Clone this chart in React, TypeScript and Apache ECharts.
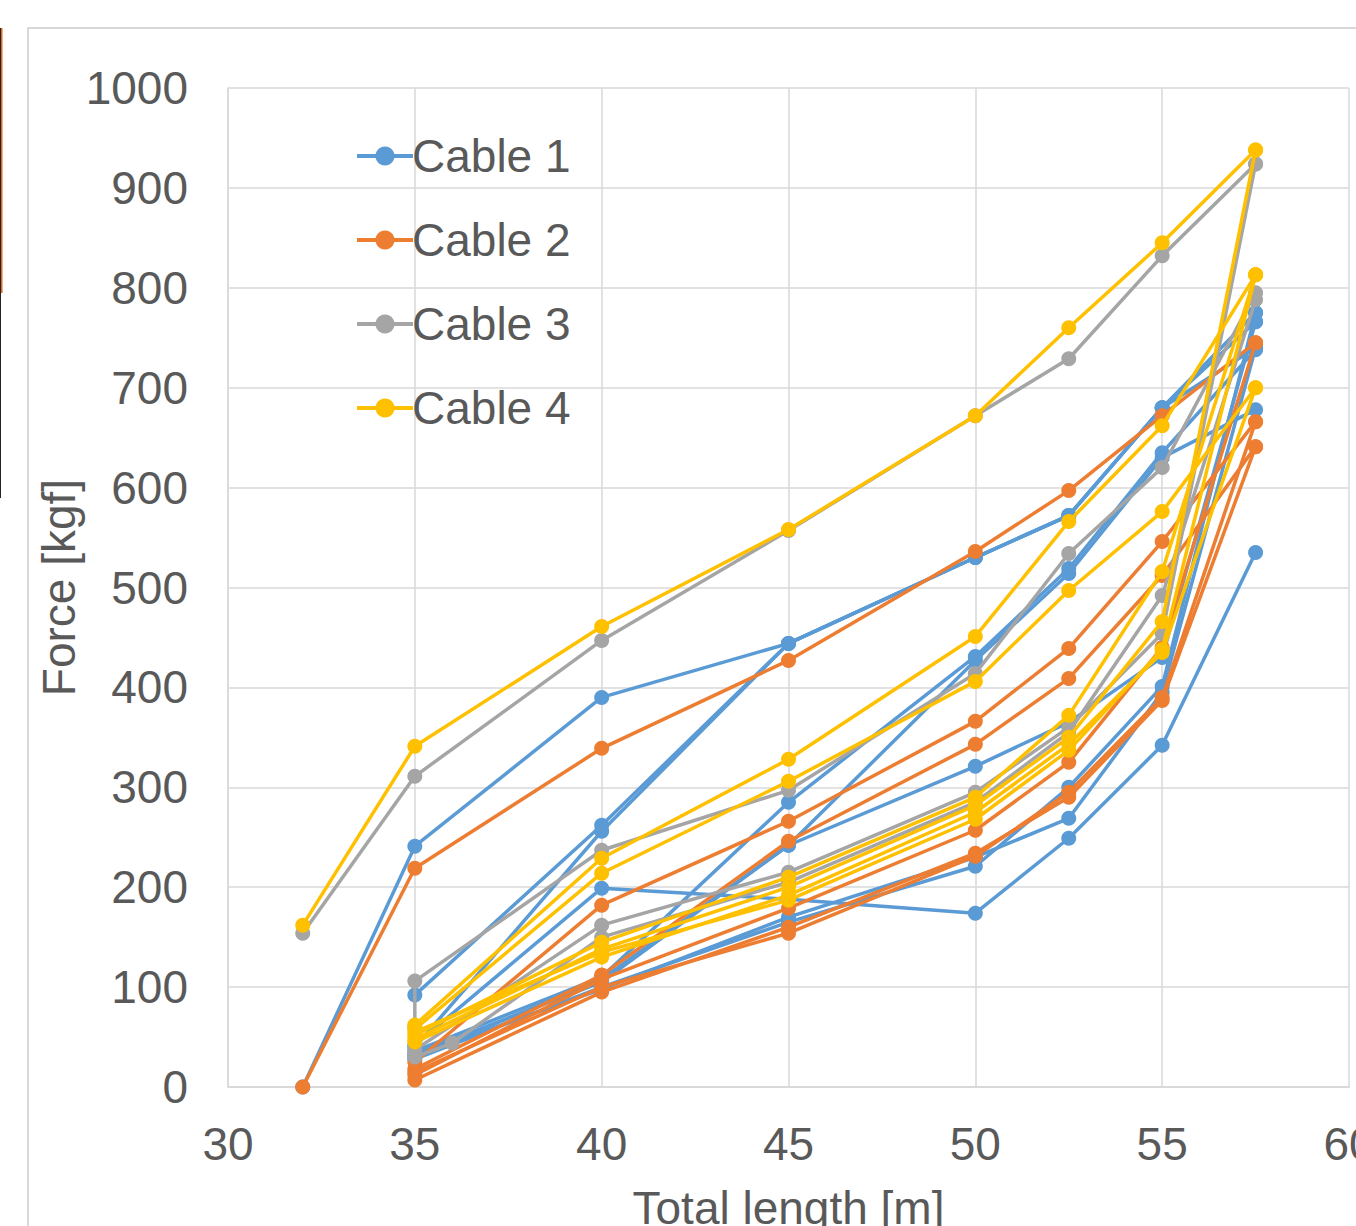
import React, { useEffect, useRef } from "react";
import * as echarts from "echarts";

// Tick settings
const xTicks = { min: 30, max: 60, interval: 5 };
const yTicks = { min: 0, max: 1000, interval: 100 };

const cableNames = ["Cable 1", "Cable 2", "Cable 3", "Cable 4"];
const cableColors = ["#5B9BD5", "#ED7D31", "#A5A5A5", "#FFC000"];

// Cable 1 runs: [total length, force]
const cable1Runs: number[][][] = [
  [[32, 0], [35, 241], [40, 390], [45, 444], [50, 530], [52.5, 572], [55, 680], [57.5, 775]],
  [[35, 92], [40, 262], [45, 444], [50, 530], [52.5, 572], [55, 680], [57.5, 766]],
  [[35, 42], [40, 199], [45, 188], [50, 174], [52.5, 249], [55, 342], [57.5, 535]],
  [[35, 40], [40, 256], [45, 444], [50, 530], [52.5, 572], [55, 680], [57.5, 740]],
  [[35, 36], [40, 110], [45, 285], [50, 431], [52.5, 519], [55, 635], [57.5, 738]],
  [[35, 33], [40, 105], [45, 242], [50, 427], [52.5, 514], [55, 630], [57.5, 678]],
  [[35, 30], [40, 108], [45, 242], [50, 321], [52.5, 365], [55, 430], [57.5, 766]],
  [[35, 28], [40, 100], [45, 165], [50, 221], [52.5, 300], [55, 401], [57.5, 775]],
  [[35, 31], [40, 98], [45, 170], [50, 230], [52.5, 269], [55, 395], [57.5, 740]],
];

// Cable 2 runs
const cable2Runs: number[][][] = [
  [[32, 0], [35, 219], [40, 339], [45, 427], [50, 536], [52.5, 597], [55, 672], [57.5, 745]],
  [[35, 25], [40, 182], [45, 266], [50, 366], [52.5, 439], [55, 546], [57.5, 666]],
  [[35, 18], [40, 112], [45, 246], [50, 343], [52.5, 409], [55, 512], [57.5, 641]],
  [[35, 12], [40, 108], [45, 179], [50, 257], [52.5, 325], [55, 440], [57.5, 745]],
  [[35, 7], [40, 95], [45, 160], [50, 234], [52.5, 290], [55, 387], [57.5, 641]],
  [[35, 15], [40, 100], [45, 154], [50, 231], [52.5, 295], [55, 390], [57.5, 666]],
];

// Cable 3 runs
const cable3Runs: number[][][] = [
  [[32, 154], [35, 311], [40, 447], [45, 557], [50, 672], [52.5, 729], [55, 832], [57.5, 924]],
  [[35, 60], [35, 106], [40, 237], [45, 297], [50, 414], [52.5, 534], [55, 620], [57.5, 795]],
  [[35, 37], [40, 162], [45, 215], [50, 295], [52.5, 360], [55, 454], [57.5, 924]],
  [[35, 30], [36, 44], [40, 150], [45, 205], [50, 285], [52.5, 355], [55, 492], [57.5, 788]],
];

// Cable 4 runs
const cable4Runs: number[][][] = [
  [[32, 162], [35, 341], [40, 461], [45, 558], [50, 672], [52.5, 760], [55, 845], [57.5, 938]],
  [[35, 62], [40, 229], [45, 328], [50, 451], [52.5, 566], [55, 662], [57.5, 813]],
  [[35, 58], [40, 214], [45, 306], [50, 406], [52.5, 497], [55, 576], [57.5, 700]],
  [[35, 52], [40, 145], [45, 210], [50, 290], [52.5, 372], [55, 516], [57.5, 813]],
  [[35, 48], [40, 138], [45, 200], [50, 282], [52.5, 350], [55, 466], [57.5, 938]],
  [[35, 45], [40, 130], [45, 192], [50, 275], [52.5, 343], [55, 435], [57.5, 700]],
  [[35, 55], [40, 135], [45, 187], [50, 268], [52.5, 337], [55, 438], [57.5, 813]],
];

const allRuns = [cable1Runs, cable2Runs, cable3Runs, cable4Runs];

const FONT = "'Liberation Sans', Arial, sans-serif";
const TEXT = "#595959";
const GRID = "#d9d9d9";
const FS = 46;

export default function App() {
  const ref = useRef<HTMLDivElement>(null);

  useEffect(() => {
    if (!ref.current) return;
    const chart = echarts.init(ref.current, undefined, { renderer: "svg" });

    const series: any[] = [];
    allRuns.forEach((runs, ci) => {
      runs.forEach((run) => {
        series.push({
          type: "line",
          name: cableNames[ci],
          data: run,
          symbol: "circle",
          symbolSize: 15,
          showSymbol: true,
          lineStyle: { color: cableColors[ci], width: 3.5 },
          itemStyle: { color: cableColors[ci] },
          emphasis: { disabled: true },
          z: 2 + ci,
        });
      });
    });

    chart.setOption({
      animation: false,
      backgroundColor: "#ffffff",
      grid: {
        left: 228,
        right: 7,
        top: 88,
        bottom: 139,
        containLabel: false,
        outerBoundsMode: "none",
      },
      legend: {
        data: cableNames,
        orient: "vertical",
        left: 350,
        top: 127,
        itemWidth: 56,
        itemHeight: 24,
        itemGap: 36,
        lineStyle: { width: 4 },
        textStyle: { color: TEXT, fontSize: FS, fontFamily: FONT, lineHeight: 48, padding: [0, 0, 0, -6] },
        selectedMode: false,
      },
      xAxis: {
        type: "value",
        min: xTicks.min,
        max: xTicks.max,
        interval: xTicks.interval,
        axisLine: { show: true, lineStyle: { color: GRID, width: 2 } },
        axisTick: { show: false },
        splitLine: { show: true, lineStyle: { color: GRID, width: 1.5 } },
        axisLabel: { color: TEXT, fontSize: FS, fontFamily: FONT, margin: 34 },
        name: "Total length [m]",
        nameLocation: "middle",
        nameGap: 98,
        nameMoveOverlap: false,
        nameTextStyle: { color: TEXT, fontSize: FS, fontFamily: FONT },
      },
      yAxis: {
        type: "value",
        min: yTicks.min,
        max: yTicks.max,
        interval: yTicks.interval,
        axisLine: { show: true, lineStyle: { color: GRID, width: 1.5 } },
        axisTick: { show: false },
        splitLine: { show: true, lineStyle: { color: GRID, width: 1.5 } },
        axisLabel: {
          color: TEXT,
          fontSize: FS,
          fontFamily: FONT,
          margin: 40,
          formatter: (v: number) => String(v),
        },
        name: "Force [kgf]",
        nameLocation: "middle",
        nameGap: 146,
        nameRotate: 90,
        nameMoveOverlap: false,
        nameTextStyle: { color: TEXT, fontSize: FS, fontFamily: FONT },
      },
      graphic: [
        {
          type: "rect",
          shape: { x: 28, y: 28, width: 1400, height: 1300 },
          style: { fill: "none", stroke: GRID, lineWidth: 2 },
          silent: true,
        },
        {
          type: "rect",
          shape: { x: 0, y: 28, width: 1, height: 470 },
          style: { fill: "#222222" },
          silent: true,
        },
        {
          type: "rect",
          shape: { x: 1, y: 28, width: 1.5, height: 265 },
          style: { fill: "#D86A1E" },
          silent: true,
        },
      ],
      series,
    });

    return () => chart.dispose();
  }, []);

  return (
    <div
      ref={ref}
      style={{ position: "absolute", left: 0, top: 0, width: 1356, height: 1226 }}
    />
  );
}
